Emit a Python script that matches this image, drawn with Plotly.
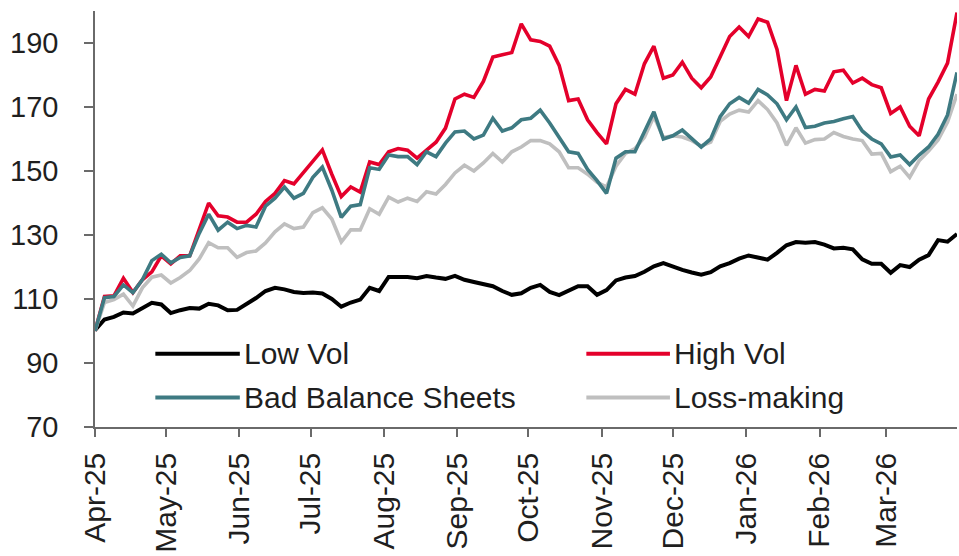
import pandas as pd
import plotly.graph_objects as go

dates = pd.date_range("2025-04-01", periods=92, freq="4D")

low_vol = [100.3, 103.6, 104.4, 105.8, 105.5, 107.1, 108.8, 108.3, 105.6, 106.5,
           107.2, 107.0, 108.5, 108.0, 106.5, 106.6, 108.3, 110.3, 112.5, 113.5,
           113.0, 112.2, 111.9, 112.0, 111.7, 110.0, 107.6, 108.9, 109.8, 113.5,
           112.5, 116.9, 116.9, 116.9, 116.5, 117.2, 116.7, 116.3, 117.2, 116.0,
           115.3, 114.5, 114.0, 112.5, 111.3, 111.8, 113.5, 114.4, 112.2, 111.2,
           112.5, 114.0, 114.0, 111.3, 112.8, 115.8, 116.7, 117.2, 118.5, 120.2,
           121.2, 120.0, 119.1, 118.3, 117.6, 118.4, 120.2, 121.2, 122.6, 123.6,
           123.0, 122.3, 124.4, 126.8, 127.8, 127.6, 127.8, 127.0, 125.8, 126.0,
           125.5, 122.4, 121.0, 121.0, 118.2, 120.6, 120.0, 122.3, 123.7, 128.4,
           127.9, 130.3]

high_vol = [100.0, 110.8, 111.0, 116.5, 112.0, 116.0, 118.5, 123.5, 121.0, 123.5,
            123.5, 132.0, 140.0, 136.0, 135.6, 134.0, 134.0, 136.5, 140.5, 143.0,
            147.0, 146.0, 149.4, 153.0, 156.6, 149.0, 142.0, 145.0, 143.4, 152.8,
            152.0, 156.0, 157.0, 156.5, 154.0, 156.5, 159.0, 163.4, 172.5, 174.0,
            173.0, 178.0, 185.6, 186.3, 187.0, 196.0, 191.0, 190.5, 189.0, 183.0,
            172.0, 172.5, 166.0, 162.0, 158.5, 171.0, 175.5, 174.0, 183.5, 189.0,
            179.0, 180.0, 184.0, 179.0, 176.0, 179.4, 186.0, 192.0, 195.0, 192.0,
            197.5, 196.5, 188.0, 172.0, 183.0, 174.0, 175.5, 175.0, 181.0, 181.5,
            177.5, 179.0, 177.0, 176.0, 168.0, 170.0, 164.0, 161.0, 172.5, 177.8,
            183.7, 199.5]

bad_balance = [100.0, 110.4, 110.8, 114.4, 112.0, 116.0, 122.0, 124.0, 121.3, 123.0,
               123.5, 130.5, 136.5, 131.5, 134.0, 132.0, 133.0, 132.5, 139.0, 141.5,
               145.0, 141.5, 143.0, 148.0, 151.2, 144.0, 135.5, 139.0, 139.5, 151.0,
               150.5, 155.0, 154.5, 154.5, 152.0, 156.0, 154.5, 158.7, 162.2, 162.5,
               160.0, 161.2, 166.5, 162.5, 163.5, 166.0, 166.5, 169.0, 165.0, 160.5,
               156.0, 155.5, 150.5, 147.0, 143.0, 154.0, 156.0, 156.0, 162.0, 168.5,
               160.0, 161.0, 162.8, 160.0, 157.5, 160.0, 167.0, 171.0, 173.0, 171.2,
               175.5, 173.8, 171.0, 166.0, 170.0, 163.6, 164.0, 165.0, 165.5, 166.3,
               167.0, 162.5, 160.0, 158.5, 154.4, 155.0, 152.0, 155.0, 157.5, 161.5,
               167.5, 180.8]

loss_making = [100.0, 108.9, 109.8, 111.5, 107.8, 113.5, 116.8, 117.5, 115.0, 116.7,
               118.9, 122.5, 127.6, 126.0, 126.0, 123.0, 124.5, 125.0, 127.5, 131.0,
               133.5, 132.0, 132.5, 137.0, 138.5, 135.0, 127.8, 131.6, 131.6, 138.2,
               136.5, 141.8, 140.3, 141.5, 140.5, 143.5, 142.8, 145.8, 149.4, 151.8,
               150.0, 152.5, 155.5, 152.8, 156.0, 157.5, 159.5, 159.5, 158.5, 156.0,
               151.0, 151.0, 149.0, 146.5, 145.0, 151.5, 155.5, 157.0, 160.5, 167.0,
               160.5, 161.0, 160.6, 159.5, 157.8, 159.0, 165.5, 167.8, 169.0, 168.4,
               172.0, 169.2, 165.0, 158.0, 163.5, 158.7, 159.8, 160.0, 162.0, 160.8,
               160.0, 159.5, 155.3, 155.5, 149.8, 151.5, 148.0, 153.2, 156.2, 159.7,
               165.3, 174.0]

series_names = ["Low Vol", "High Vol", "Bad Balance Sheets", "Loss-making"]
series_colors = ["#000000", "#E4002B", "#3E7A82", "#BFBFBF"]

x_tick_dates = pd.date_range("2025-04-01", "2026-03-01", freq="MS")
x_tick_labels = [d.strftime("%b-%y") for d in x_tick_dates]
y_tick_values = [70, 90, 110, 130, 150, 170, 190]

# ---- figure ----
FONT = "Liberation Sans, Arial, sans-serif"
FS = 30
TXT = "#1f1f1f"
AX = "#6a6a6a"

values = {"Low Vol": low_vol, "High Vol": high_vol,
          "Bad Balance Sheets": bad_balance, "Loss-making": loss_making}
colors = dict(zip(series_names, series_colors))
widths = {"Low Vol": 4, "High Vol": 3.6, "Bad Balance Sheets": 3.6, "Loss-making": 3.6}

fig = go.Figure()
for name in ["Low Vol", "High Vol", "Loss-making", "Bad Balance Sheets"]:
    fig.add_trace(go.Scatter(x=dates, y=values[name], name=name, mode="lines",
                             line=dict(color=colors[name], width=widths[name]),
                             cliponaxis=False, showlegend=False))

x_range = [pd.Timestamp("2025-04-01"), pd.Timestamp("2026-03-31")]
y_range = [70, 200]

fig.update_layout(
    width=959, height=556,
    margin=dict(l=95, r=2, t=11, b=129, autoexpand=False),
    paper_bgcolor="white", plot_bgcolor="white",
    font=dict(family=FONT, size=FS, color=TXT),
    xaxis=dict(range=x_range, tickvals=x_tick_dates, ticktext=x_tick_labels,
               tickangle=-90, ticks="outside", ticklen=8, tickwidth=1.5,
               tickcolor=AX, showline=True, linecolor=AX, linewidth=1.5,
               showgrid=False, zeroline=False, ticklabelstandoff=4,
               automargin=False,
               tickfont=dict(family=FONT, size=FS, color=TXT)),
    yaxis=dict(range=y_range, tickvals=y_tick_values, ticks="outside",
               ticklen=9, tickwidth=1.5, tickcolor=AX, showline=True,
               linecolor=AX, linewidth=1.5, showgrid=False, zeroline=False,
               ticklabelstandoff=20, automargin=False,
               tickfont=dict(family=FONT, size=29, color=TXT)),
    # overlaid axes that only draw the inner half of the crossing ticks
    xaxis2=dict(range=x_range, overlaying="x", anchor="y", side="bottom",
                tickvals=x_tick_dates, ticks="inside", ticklen=8, tickwidth=1.5,
                tickcolor=AX, showticklabels=False, showline=False,
                showgrid=False, zeroline=False, automargin=False),
    yaxis2=dict(range=y_range, overlaying="y", anchor="x", side="left",
                tickvals=y_tick_values, ticks="inside", ticklen=9, tickwidth=1.5,
                tickcolor=AX, showticklabels=False, showline=False,
                showgrid=False, zeroline=False, automargin=False),
)

# ---- legend drawn inside the plot area (two columns) ----
legend_rows = [0.176, 0.071]
legend_cols = [(0.070, 0.168, 0.170), (0.570, 0.667, 0.669)]
order = [("Low Vol", 0, 0), ("High Vol", 0, 1),
         ("Bad Balance Sheets", 1, 0), ("Loss-making", 1, 1)]
for name, r, c in order:
    x0, x1, xt = legend_cols[c]
    yy = legend_rows[r]
    fig.add_shape(type="line", xref="paper", yref="paper", x0=x0, x1=x1,
                  y0=yy, y1=yy, line=dict(color=colors[name], width=4))
    fig.add_annotation(xref="paper", yref="paper", x=xt, y=yy, text=name,
                       showarrow=False, xanchor="left", yanchor="middle",
                       font=dict(family=FONT, size=FS, color=TXT))

# remove the default page margin so the 959x556 figure fills the window exactly
fig.write_html("out.html",
               config={"displayModeBar": False},
               post_script="document.body.style.margin='0';"
                           "document.body.style.overflow='hidden';")
